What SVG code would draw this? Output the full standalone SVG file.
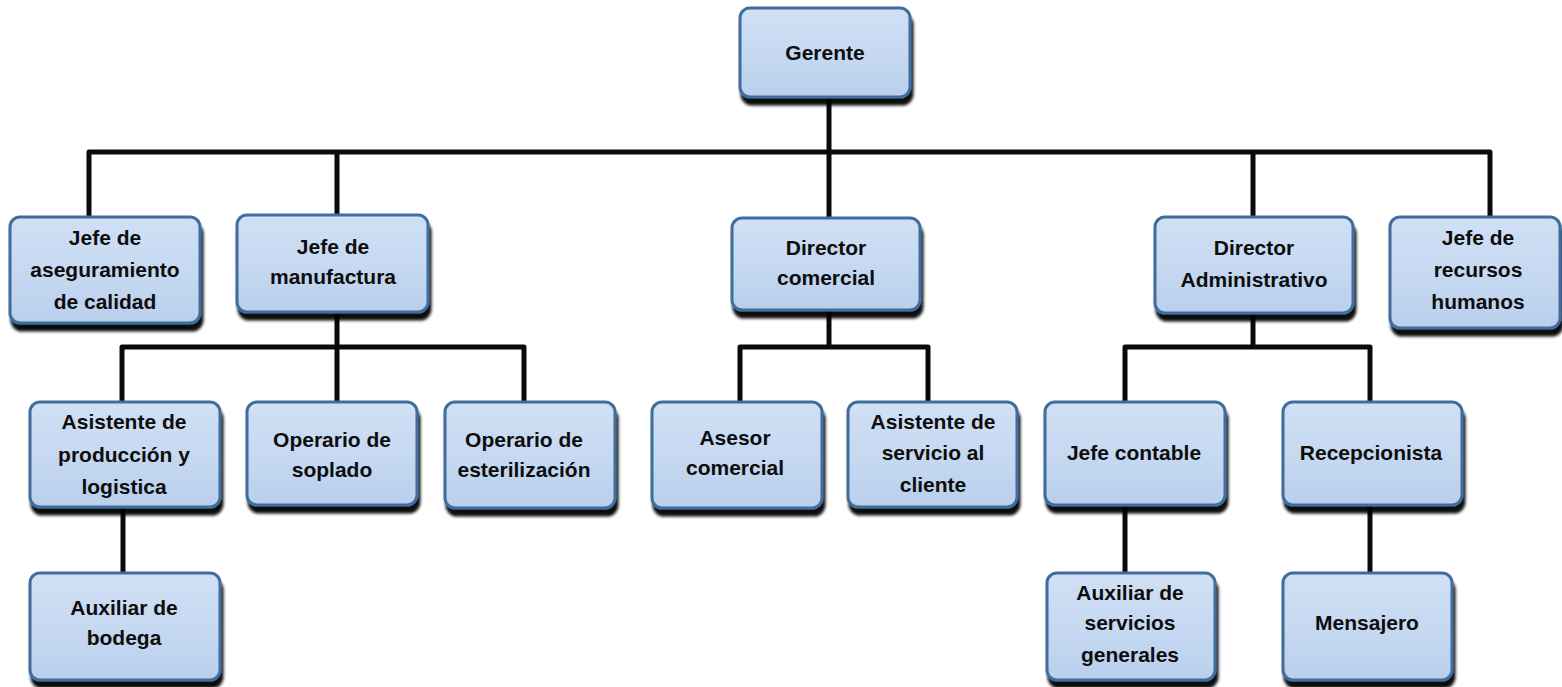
<svg xmlns="http://www.w3.org/2000/svg" width="1562" height="687" viewBox="0 0 1562 687">
  <defs>
    <linearGradient id="boxFill" x1="0" y1="0" x2="0" y2="1">
      <stop offset="0" stop-color="#d0e0f5"/>
      <stop offset="0.5" stop-color="#c6d9f1"/>
      <stop offset="1" stop-color="#b9cfec"/>
    </linearGradient>
    <filter id="shadow" x="-10%" y="-10%" width="125%" height="130%">
      <feGaussianBlur in="SourceAlpha" stdDeviation="1.4"/>
      <feOffset dx="2" dy="7" result="off"/>
      <feComponentTransfer><feFuncA type="linear" slope="0.95"/></feComponentTransfer>
      <feMerge><feMergeNode/><feMergeNode in="SourceGraphic"/></feMerge>
    </filter>
  </defs>
  <style>
    .box { fill: url(#boxFill); stroke: #3f6d9c; stroke-width: 3; filter: url(#shadow); }
    .lbl { font-family: "Liberation Sans", Arial, sans-serif; font-weight: bold; font-size: 21px; fill: #0d0d0d; text-anchor: middle; }
    .wire { fill: none; stroke: #0a0a0a; stroke-width: 5; stroke-linejoin: round; }
  </style>
  <rect width="1562" height="687" fill="#ffffff"/>

  <!-- reporting lines -->
  <g id="connectors">
    <path class="wire" d="M829 97 V218"/>
    <path class="wire" d="M89 217 V152 H1490 V217"/>
    <path class="wire" d="M337 152 V215"/>
    <path class="wire" d="M1253 152 V217"/>
    <path class="wire" d="M337 312 V402"/>
    <path class="wire" d="M122 402 V347 H524 V402"/>
    <path class="wire" d="M123 507 V573"/>
    <path class="wire" d="M829 310 V347"/>
    <path class="wire" d="M740 402 V347 H928 V402"/>
    <path class="wire" d="M1253 313 V347"/>
    <path class="wire" d="M1125 402 V347 H1370 V402"/>
    <path class="wire" d="M1125 505 V573"/>
    <path class="wire" d="M1370 505 V573"/>
  </g>

  <g id="gerente">
    <rect class="box" x="740" y="8" width="170" height="89" rx="10"/>
    <text class="lbl" x="825" y="60">Gerente</text>
  </g>

  <g id="jefe-aseguramiento">
    <rect class="box" x="10" y="217" width="190" height="106" rx="10"/>
    <text class="lbl" x="105" y="245">Jefe de</text>
    <text class="lbl" x="105" y="277">aseguramiento</text>
    <text class="lbl" x="105" y="309">de calidad</text>
  </g>

  <g id="jefe-manufactura">
    <rect class="box" x="237" y="215" width="191" height="97" rx="10"/>
    <text class="lbl" x="333" y="254">Jefe de</text>
    <text class="lbl" x="333" y="284">manufactura</text>
  </g>

  <g id="director-comercial">
    <rect class="box" x="732" y="218" width="188" height="92" rx="10"/>
    <text class="lbl" x="826" y="255">Director</text>
    <text class="lbl" x="826" y="285">comercial</text>
  </g>

  <g id="director-administrativo">
    <rect class="box" x="1155" y="217" width="198" height="96" rx="10"/>
    <text class="lbl" x="1254" y="255">Director</text>
    <text class="lbl" x="1254" y="287">Administrativo</text>
  </g>

  <g id="jefe-recursos-humanos">
    <rect class="box" x="1390" y="217" width="170" height="111" rx="10"/>
    <text class="lbl" x="1478" y="245">Jefe de</text>
    <text class="lbl" x="1478" y="277">recursos</text>
    <text class="lbl" x="1478" y="309">humanos</text>
  </g>

  <g id="asistente-produccion">
    <rect class="box" x="30" y="402" width="190" height="105" rx="10"/>
    <text class="lbl" x="124" y="429">Asistente de</text>
    <text class="lbl" x="124" y="462">producción y</text>
    <text class="lbl" x="124" y="494">logistica</text>
  </g>

  <g id="operario-soplado">
    <rect class="box" x="247" y="402" width="170" height="103" rx="10"/>
    <text class="lbl" x="332" y="447">Operario de</text>
    <text class="lbl" x="332" y="477">soplado</text>
  </g>

  <g id="operario-esterilizacion">
    <rect class="box" x="445" y="402" width="170" height="106" rx="10"/>
    <text class="lbl" x="524" y="447">Operario de</text>
    <text class="lbl" x="524" y="477">esterilización</text>
  </g>

  <g id="asesor-comercial">
    <rect class="box" x="652" y="402" width="170" height="106" rx="10"/>
    <text class="lbl" x="735" y="445">Asesor</text>
    <text class="lbl" x="735" y="475">comercial</text>
  </g>

  <g id="asistente-servicio">
    <rect class="box" x="848" y="402" width="169" height="105" rx="10"/>
    <text class="lbl" x="933" y="429">Asistente de</text>
    <text class="lbl" x="933" y="460">servicio al</text>
    <text class="lbl" x="933" y="492">cliente</text>
  </g>

  <g id="jefe-contable">
    <rect class="box" x="1045" y="402" width="180" height="103" rx="10"/>
    <text class="lbl" x="1134" y="460">Jefe contable</text>
  </g>

  <g id="recepcionista">
    <rect class="box" x="1283" y="402" width="179" height="103" rx="10"/>
    <text class="lbl" x="1371" y="460">Recepcionista</text>
  </g>

  <g id="auxiliar-bodega">
    <rect class="box" x="30" y="573" width="190" height="107" rx="10"/>
    <text class="lbl" x="124" y="615">Auxiliar de</text>
    <text class="lbl" x="124" y="645">bodega</text>
  </g>

  <g id="auxiliar-servicios-generales">
    <rect class="box" x="1047" y="573" width="168" height="107" rx="10"/>
    <text class="lbl" x="1130" y="600">Auxiliar de</text>
    <text class="lbl" x="1130" y="630">servicios</text>
    <text class="lbl" x="1130" y="662">generales</text>
  </g>

  <g id="mensajero">
    <rect class="box" x="1283" y="573" width="169" height="107" rx="10"/>
    <text class="lbl" x="1367" y="630">Mensajero</text>
  </g>
</svg>
